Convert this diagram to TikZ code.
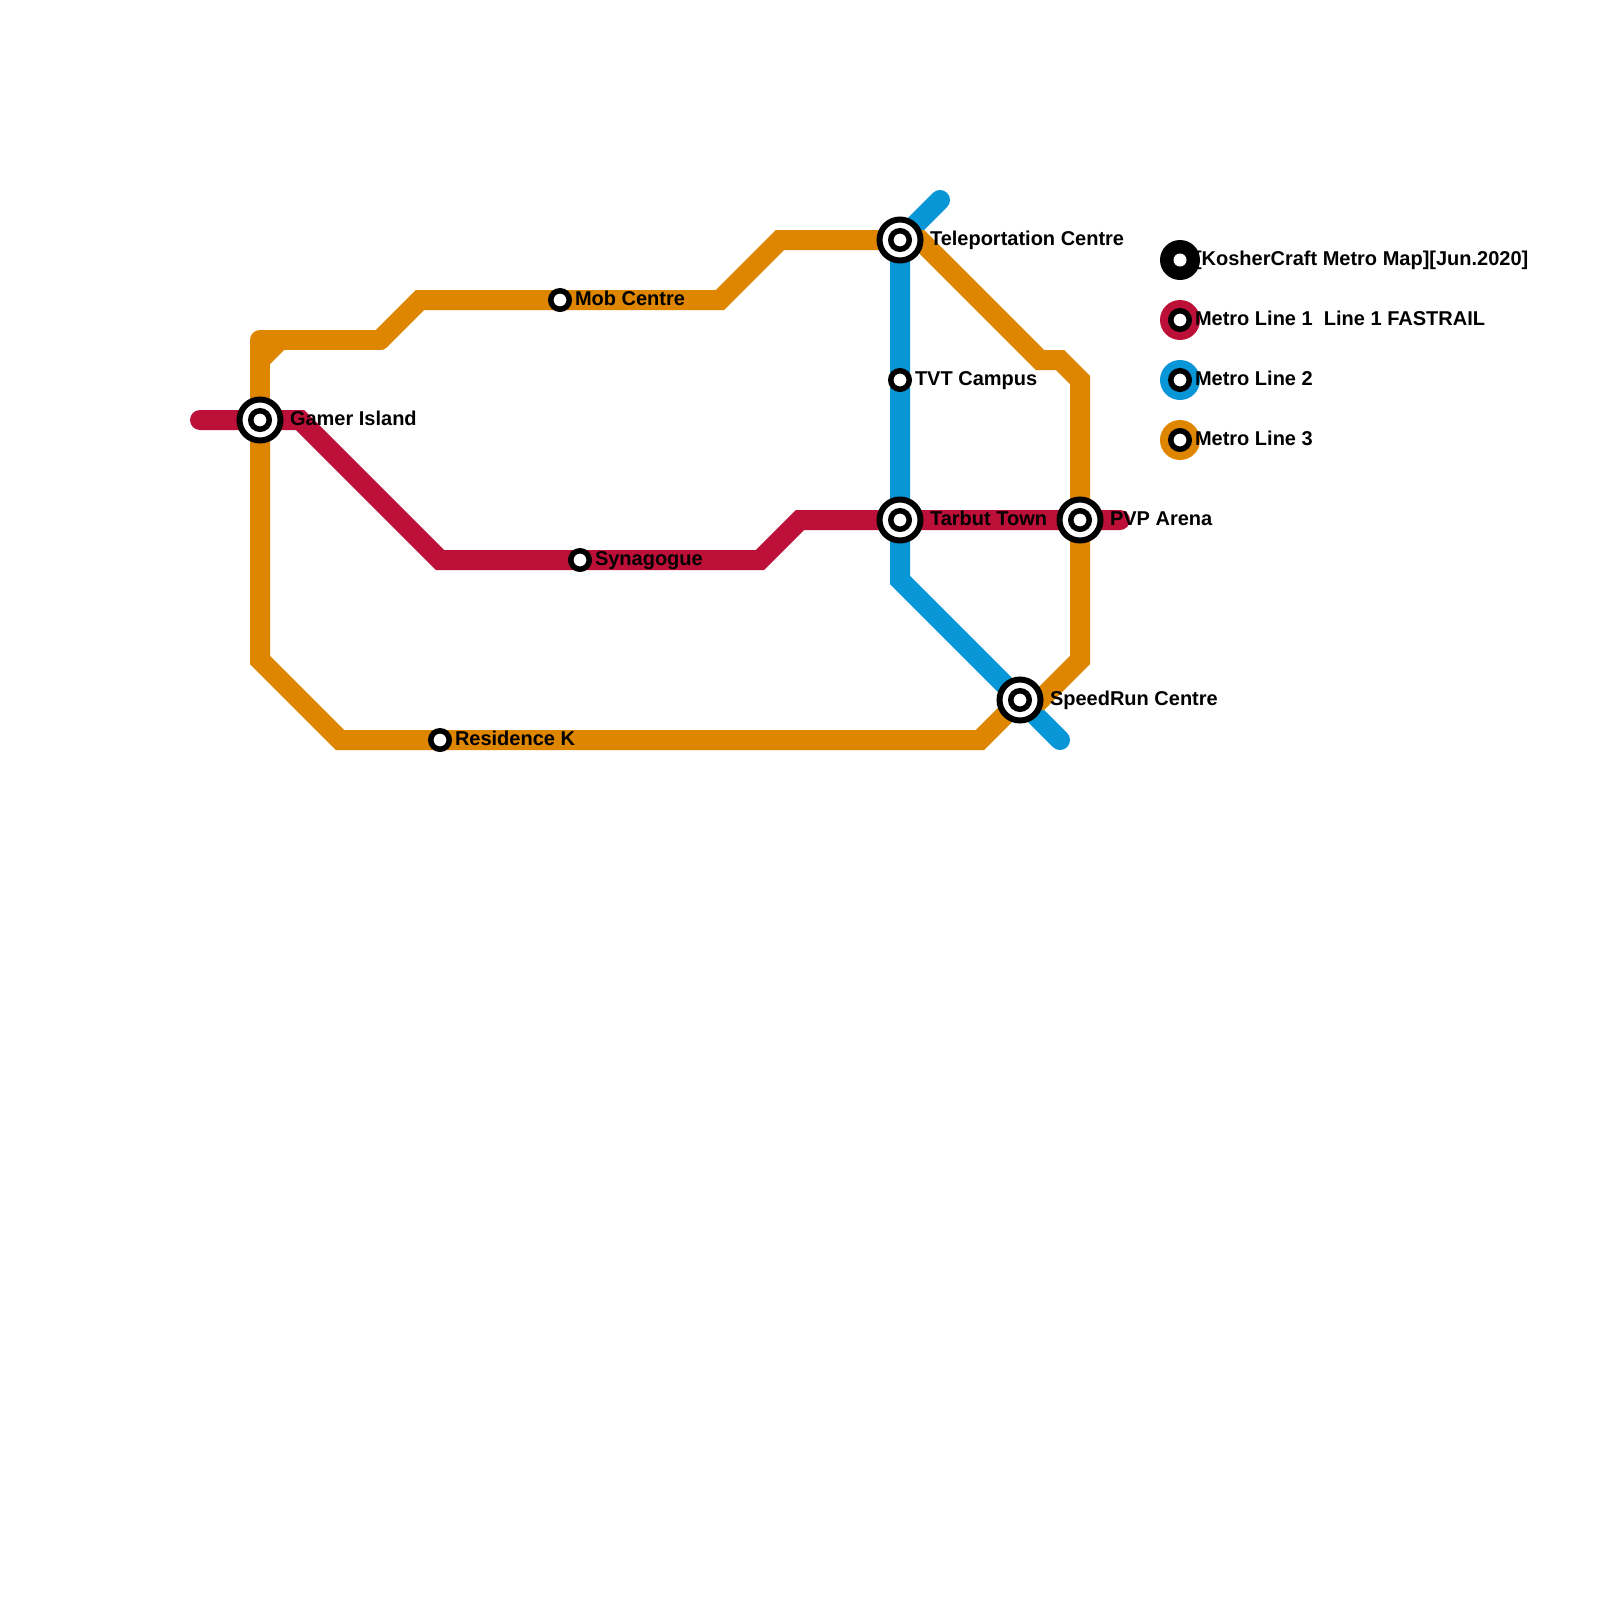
\documentclass[tikz,border=0pt]{standalone}
\usepackage{fontspec}
\setmainfont{Liberation Sans}
\definecolor{lineA}{HTML}{BD1038}
\definecolor{lineB}{HTML}{0896D7}
\definecolor{lineC}{HTML}{DF8600}
\tikzset{
  metro/.style={line width=10pt,line join=miter,line cap=round,miter limit=10},
  hub/.style={circle,draw=black,fill=white,line width=3pt,minimum size=20.5pt,inner sep=0pt,outer sep=0pt},
  hubcore/.style={circle,draw=black,fill=white,line width=2.75pt,minimum size=9.25pt,inner sep=0pt,outer sep=0pt},
  stop/.style={circle,draw=black,fill=white,line width=2.75pt,minimum size=9.25pt,inner sep=0pt,outer sep=0pt},
  disc/.style={circle,minimum size=20pt,inner sep=0pt,outer sep=0pt},
  lab/.style={anchor=base west,inner sep=0pt,outer sep=0pt,font=\fontsize{10pt}{12pt}\selectfont\bfseries,text=black}
}
\begin{document}
\begin{tikzpicture}[x=0.5pt,y=-0.5pt]
\useasboundingbox (0,0) rectangle (1600,1600);
\fill[white] (0,0) rectangle (1600,1600);
% station positions
\coordinate (gamer) at (260,420);
\coordinate (tele) at (900,240);
\coordinate (tvt) at (900,380);
\coordinate (tarbut) at (900,520);
\coordinate (pvp) at (1080,520);
\coordinate (speed) at (1020,700);
\coordinate (resid) at (440,740);
\coordinate (mob) at (560,300);
\coordinate (syn) at (580,560);
% line 2
\coordinate (b0) at (940,200);
\coordinate (b1) at (900,580);
\coordinate (b2) at (1060,740);
\draw[metro,lineB] (b0) -- (tele) -- (tvt) -- (tarbut) -- (b1) -- (speed) -- (b2);
% line 1
\coordinate (r0) at (200,420);
\coordinate (r1) at (300,420);
\coordinate (r2) at (440,560);
\coordinate (r3) at (760,560);
\coordinate (r4) at (800,520);
\coordinate (r5) at (1120,520);
\draw[metro,lineA] (r0) -- (gamer) -- (r1) -- (r2) -- (syn) -- (r3) -- (r4) -- (tarbut) -- (pvp) -- (r5);
% line 3
\coordinate (c0) at (260,340);
\coordinate (c1) at (380,340);
\coordinate (c2) at (420,300);
\coordinate (c3) at (720,300);
\coordinate (c4) at (780,240);
\coordinate (c5) at (920,240);
\coordinate (c6) at (1040,360);
\coordinate (c7) at (1060,360);
\coordinate (c8) at (1080,380);
\coordinate (c9) at (1080,660);
\coordinate (c9b) at (1040,700);
\coordinate (c10) at (980,740);
\coordinate (c11) at (340,740);
\coordinate (c12) at (260,660);
\coordinate (c13) at (260,360);
\coordinate (c14) at (280,340);
\draw[metro,lineC,line join=round] (gamer) -- (c0) -- (c1);
\draw[metro,lineC] (c13) -- (c14);
\draw[metro,lineC] (c1) -- (c2) -- (mob) -- (c3) -- (c4) -- (tele) -- (c5) -- (c6) -- (c7) -- (c8) -- (pvp) -- (c9) -- (c9b) -- (speed) -- (c10) -- (resid) -- (c11) -- (c12) -- (gamer);
% stations
\foreach \s in {gamer,tele,tarbut,pvp,speed}{
  \node[hub] (\s hub) at (\s) {};
  \node[hubcore] (\s core) at (\s) {};
}
\foreach \s in {tvt,resid,mob,syn}{
  \node[stop] (\s stop) at (\s) {};
}
% labels
\node[lab] (lgamer) at (290,425.5) {Gamer Island};
\node[lab] (ltele) at (930,245.5) {Teleportation Centre};
\node[lab] (ltvt) at (915,385.5) {TVT Campus};
\node[lab] (ltarbut) at (930,525.5) {Tarbut Town};
\node[lab] (lpvp) at (1110,525.5) {PVP Arena};
\node[lab] (lspeed) at (1050,705.5) {SpeedRun Centre};
\node[lab] (lresid) at (455,745.5) {Residence K};
\node[lab] (lmob) at (575,305.5) {Mob Centre};
\node[lab] (lsyn) at (595,565.5) {Synagogue};
% legend
\node[disc,fill=black] (k0) at (1180,260) {};
\node[circle,fill=white,minimum size=6.5pt,inner sep=0pt] (k0w) at (1180,260) {};
\node[disc,fill=lineA] (k1) at (1180,320) {};
\node[stop] (k1s) at (1180,320) {};
\node[disc,fill=lineB] (k2) at (1180,380) {};
\node[stop] (k2s) at (1180,380) {};
\node[disc,fill=lineC] (k3) at (1180,440) {};
\node[stop] (k3s) at (1180,440) {};
\node[lab] (t0) at (1195,265.5) {[KosherCraft Metro Map][Jun.2020]};
\node[lab] (t1) at (1195,325.5) {Metro Line 1\ \ Line 1 FASTRAIL};
\node[lab] (t2) at (1195,385.5) {Metro Line 2};
\node[lab] (t3) at (1195,445.5) {Metro Line 3};
\end{tikzpicture}
\end{document}
